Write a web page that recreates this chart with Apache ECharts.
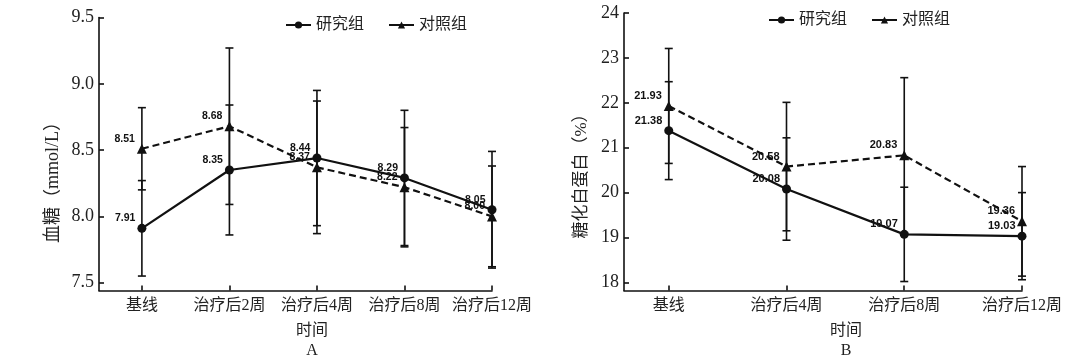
<!DOCTYPE html>
<html><head><meta charset="utf-8">
<script src="https://cdn.jsdelivr.net/npm/echarts@6/dist/echarts.min.js"></script>
<style>html,body{margin:0;padding:0;background:#fff}#c{width:1080px;height:362px}</style>
</head><body><div id="c"></div>
<script>
// ---- Data ----
const catsA = ['基线', '治疗后2周', '治疗后4周', '治疗后8周', '治疗后12周'];
const studyA = [7.91, 8.35, 8.44, 8.29, 8.05];
const studyA_sd = [0.36, 0.49, 0.51, 0.51, 0.44];
const ctrlA = [8.51, 8.68, 8.37, 8.22, 8.00];
const ctrlA_sd = [0.31, 0.59, 0.50, 0.45, 0.38];
const yTicksA = [7.5, 8.0, 8.5, 9.0, 9.5];

const catsB = ['基线', '治疗后4周', '治疗后8周', '治疗后12周'];
const studyB = [21.38, 20.08, 19.07, 19.03];
const studyB_sd = [1.09, 1.14, 1.05, 0.97];
const ctrlB = [21.93, 20.58, 20.83, 19.36];
const ctrlB_sd = [1.28, 1.43, 1.73, 1.22];
const yTicksB = [18, 19, 20, 21, 22, 23, 24];

const seriesNames = ['研究组', '对照组'];

// ---- helpers ----
const INK = '#111';
const serif = '"Liberation Serif","Noto Sans CJK SC",serif';
const pts = arr => arr.map((v, i) => [i, v]);
const errData = (m, s) => m.map((v, i) => [i, +(v - s[i]).toFixed(2), +(v + s[i]).toFixed(2)]);

function errSeries(idx, m, s) {
  return {
    type: 'custom', xAxisIndex: idx, yAxisIndex: idx, silent: true, z: 3,
    data: errData(m, s),
    renderItem: function (params, api) {
      const lo = api.coord([api.value(0), api.value(1)]);
      const hi = api.coord([api.value(0), api.value(2)]);
      const w = 4;
      const st = { stroke: INK, lineWidth: 1.6 };
      return { type: 'group', children: [
        { type: 'line', shape: { x1: lo[0], y1: lo[1], x2: hi[0], y2: hi[1] }, style: st },
        { type: 'line', shape: { x1: lo[0] - w, y1: lo[1], x2: lo[0] + w, y2: lo[1] }, style: st },
        { type: 'line', shape: { x1: hi[0] - w, y1: hi[1], x2: hi[0] + w, y2: hi[1] }, style: st }
      ]};
    }
  };
}
function lineSeries(idx, name, vals, dashed, fs) {
  return {
    type: 'line', name: name, xAxisIndex: idx, yAxisIndex: idx, z: 4,
    data: pts(vals),
    symbol: dashed ? 'triangle' : 'circle',
    symbolSize: dashed ? 10 : 9,
    itemStyle: { color: INK },
    lineStyle: { color: INK, width: 2.2, type: dashed ? [7, 4] : 'solid' },
    label: {
      show: true, position: 'left', distance: 2, offset: [0, -10],
      formatter: p => p.value[1].toFixed(2),
      color: INK, fontSize: fs, fontWeight: 'bold',
      fontFamily: '"Liberation Sans",Arial,sans-serif'
    },
    emphasis: { disabled: true }
  };
}
function xAxisFor(idx, cats, min, max) {
  const vals = cats.map((c, i) => i);
  return {
    type: 'value', gridIndex: idx, min: min, max: max,
    splitLine: { show: false },
    axisLine: { show: true, onZero: false, lineStyle: { color: INK, width: 1.6 } },
    axisTick: { show: true, inside: true, length: 5, customValues: vals, lineStyle: { color: INK, width: 1.6 } },
    axisLabel: { customValues: vals, formatter: v => cats[Math.round(v)], color: '#222', fontSize: 16, fontFamily: serif, margin: 7 }
  };
}
function yAxisFor(idx, ticks, min, max, dec) {
  return {
    type: 'value', gridIndex: idx, min: min, max: max,
    splitLine: { show: false },
    axisLine: { show: true, onZero: false, lineStyle: { color: INK, width: 1.6 } },
    axisTick: { show: true, inside: true, length: 5, customValues: ticks, lineStyle: { color: INK, width: 1.6 } },
    axisLabel: { customValues: ticks, formatter: v => v.toFixed(dec), color: '#222', fontSize: 18, fontFamily: serif, margin: 5 }
  };
}
function legendFor(left, top) {
  return {
    left: left, top: top, itemWidth: 25, itemHeight: 9, itemGap: 24,
    data: [{ name: seriesNames[0] }, { name: seriesNames[1], lineStyle: { type: 'solid' } }],
    textStyle: { color: '#222', fontSize: 16, fontFamily: serif },
    selectedMode: false
  };
}

const chart = echarts.init(document.getElementById('c'));
chart.setOption({
  animation: false,
  backgroundColor: '#fff',
  grid: [
    { left: 99, right: 588, top: 17.5, bottom: 71.5 },
    { left: 624, right: 58, top: 13, bottom: 71.5 }
  ],
  xAxis: [xAxisFor(0, catsA, -0.49, 4), xAxisFor(1, catsB, -0.38, 3)],
  yAxis: [yAxisFor(0, yTicksA, 7.441, 9.5, 1), yAxisFor(1, yTicksB, 17.82, 24, 0)],
  legend: [legendFor(280, 12), legendFor(763, 7)],
  series: [
    errSeries(0, studyA, studyA_sd), errSeries(0, ctrlA, ctrlA_sd),
    lineSeries(0, seriesNames[0], studyA, false, 10.5),
    lineSeries(0, seriesNames[1], ctrlA, true, 10.5),
    errSeries(1, studyB, studyB_sd), errSeries(1, ctrlB, ctrlB_sd),
    lineSeries(1, seriesNames[0], studyB, false, 11),
    lineSeries(1, seriesNames[1], ctrlB, true, 11)
  ],
  graphic: [
    { type: 'text', x: 53, y: 178, rotation: Math.PI / 2, style: { text: '血糖（mmol/L）', fontSize: 18, fontFamily: serif, fill: '#222', align: 'center', verticalAlign: 'middle' } },
    { type: 'text', x: 582, y: 172, rotation: Math.PI / 2, style: { text: '糖化白蛋白（%）', fontSize: 17, fontFamily: serif, fill: '#222', align: 'center', verticalAlign: 'middle' } },
    { type: 'text', x: 312, y: 331, style: { text: '时间', fontSize: 16, fontFamily: serif, fill: '#222', align: 'center', verticalAlign: 'middle' } },
    { type: 'text', x: 312, y: 351, style: { text: 'A', fontSize: 16, fontFamily: serif, fill: '#222', align: 'center', verticalAlign: 'middle' } },
    { type: 'text', x: 846, y: 331, style: { text: '时间', fontSize: 16, fontFamily: serif, fill: '#222', align: 'center', verticalAlign: 'middle' } },
    { type: 'text', x: 846, y: 351, style: { text: 'B', fontSize: 16, fontFamily: serif, fill: '#222', align: 'center', verticalAlign: 'middle' } }
  ]
});
</script></body></html>
